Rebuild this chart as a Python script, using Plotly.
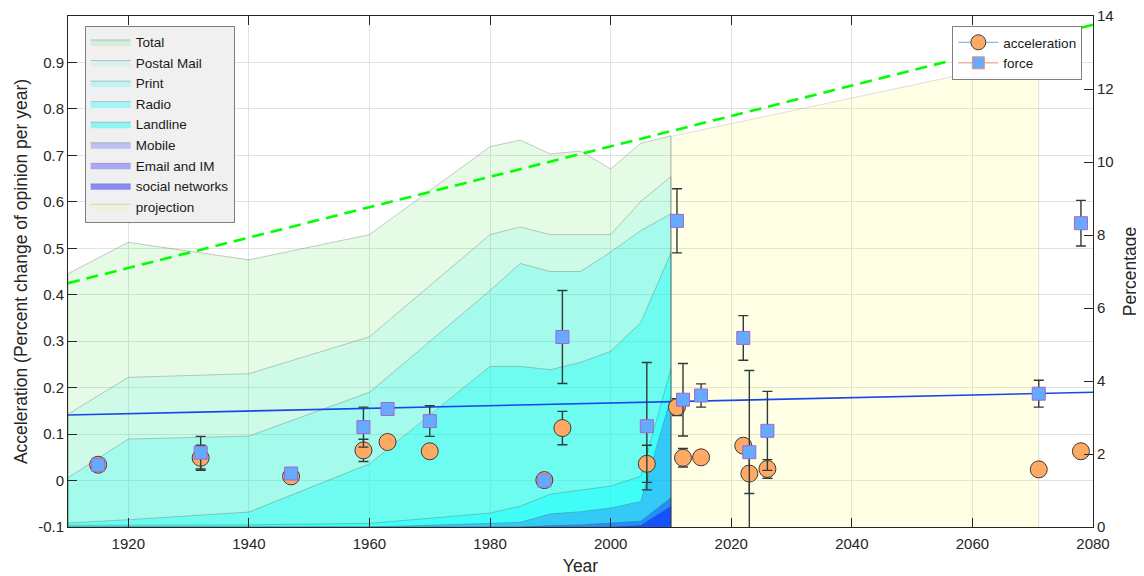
import plotly.graph_objects as go

# ---------------- data ----------------
# communication media shares (Percentage, right axis)
area_years = [1910, 1920, 1940, 1960, 1980, 1985, 1990, 1995, 2000, 2005, 2010]
total = [6.94, 7.80, 7.32, 8.01, 10.42, 10.60, 10.22, 10.30, 9.81, 10.51, 10.72]
postal_mail = [3.09, 4.10, 4.20, 5.21, 8.01, 8.22, 8.01, 8.01, 8.01, 8.92, 9.60]
print_media = [1.35, 2.41, 2.49, 3.69, 6.48, 7.22, 7.00, 7.00, 7.53, 8.12, 8.58]
radio = [0.11, 0.20, 0.41, 1.73, 4.40, 4.40, 4.31, 4.51, 4.81, 5.60, 7.51]
landline = [0.05, 0.05, 0.06, 0.10, 0.38, 0.57, 0.90, 1.01, 1.12, 1.39, 4.33]
mobile = [0, 0, 0, 0, 0.10, 0.13, 0.36, 0.42, 0.52, 0.70, 3.56]
email_im = [0, 0, 0, 0, 0, 0, 0.04, 0.06, 0.11, 0.16, 0.80]
social_networks = [0, 0, 0, 0, 0, 0, 0, 0, 0, 0.04, 0.57]

proj_years = [2010, 2071]
proj_top = [10.70, 12.84]

trend_pct_years = [1910, 2080]
trend_pct = [6.68, 13.76]

# acceleration / force (left axis)
acc_years = [1915, 1932, 1947, 1959, 1963, 1970, 1989, 1992, 2006, 2011, 2012, 2015, 2022, 2023, 2026, 2071, 2078]
acc_vals = [0.034, 0.049, 0.009, 0.065, 0.083, 0.063, 0.001, 0.113, 0.036, 0.158, 0.049, 0.050, 0.075, 0.015, 0.025, 0.024, 0.063]
acc_err = [0, 0.027, 0, 0.024, 0, 0, 0, 0.036, 0.040, 0.018, 0.020, 0, 0, 0.043, 0.020, 0, 0]

force_years = [1915, 1932, 1947, 1959, 1963, 1970, 1989, 1992, 2006, 2011, 2012, 2015, 2022, 2023, 2026, 2071, 2078]
force_vals = [0.034, 0.060, 0.015, 0.115, 0.154, 0.128, 0.000, 0.309, 0.117, 0.559, 0.174, 0.183, 0.307, 0.061, 0.107, 0.187, 0.554]
force_err = [0, 0.035, 0, 0.043, 0, 0.033, 0, 0.100, 0.137, 0.069, 0.078, 0.025, 0.048, 0.176, 0.085, 0.029, 0.049]

trend_acc_years = [1910, 2080]
trend_acc = [0.141, 0.190]

x_ticks = [1920, 1940, 1960, 1980, 2000, 2020, 2040, 2060, 2080]
left_ticks = [-0.1, 0, 0.1, 0.2, 0.3, 0.4, 0.5, 0.6, 0.7, 0.8, 0.9]
left_tick_text = ["-0.1", "0", "0.1", "0.2", "0.3", "0.4", "0.5", "0.6", "0.7", "0.8", "0.9"]
right_ticks = [0, 2, 4, 6, 8, 10, 12, 14]

series = [
    ("Total", total, "rgba(0,220,0,0.10)"),
    ("Postal Mail", postal_mail, "rgba(0,255,255,0.10)"),
    ("Print", print_media, "rgba(0,255,255,0.20)"),
    ("Radio", radio, "rgba(0,255,255,0.33)"),
    ("Landline", landline, "rgba(0,255,255,0.42)"),
    ("Mobile", mobile, "rgba(0,0,255,0.20)"),
    ("Email and IM", email_im, "rgba(0,0,255,0.30)"),
    ("social networks", social_networks, "rgba(0,0,255,0.42)"),
]

EDGE = "rgba(80,80,80,0.30)"
AX = "#262626"
FONT = "Liberation Sans, Arial, Helvetica, sans-serif"

fig = go.Figure()

def closed(xs, ys):
    return [xs[0]] + list(xs) + [xs[-1]], [0] + list(ys) + [0]

for name, vals, col in series:
    px, py = closed(area_years, vals)
    fig.add_trace(go.Scatter(x=px, y=py, mode="lines", fill="toself", fillcolor=col,
                             line=dict(color=EDGE, width=1), name=name, yaxis="y",
                             legend="legend", hoverinfo="skip"))

px, py = closed(proj_years, proj_top)
fig.add_trace(go.Scatter(x=px, y=py, mode="lines", fill="toself", fillcolor="rgba(255,255,0,0.10)",
                         line=dict(color="rgba(80,80,80,0.18)", width=1), name="projection",
                         yaxis="y", legend="legend", hoverinfo="skip"))

fig.add_trace(go.Scatter(x=trend_pct_years, y=trend_pct, mode="lines",
                         line=dict(color="#00ff00", width=2.6, dash="12px,7px"),
                         showlegend=False, yaxis="y"))

# overlay (left axis) traces
fig.add_trace(go.Scatter(x=trend_acc_years, y=trend_acc, mode="lines",
                         line=dict(color="rgb(25,70,235)", width=1.6),
                         showlegend=False, yaxis="y2"))

ORANGE = "rgb(255,170,100)"
BLUE = "rgb(100,170,255)"
ERR = "rgb(45,60,58)"

fig.add_trace(go.Scatter(x=acc_years, y=acc_vals, mode="markers", yaxis="y2", showlegend=False,
                         marker=dict(symbol="circle", size=17, color=ORANGE, line=dict(color="#3a3a3a", width=1)),
                         error_y=dict(type="data", array=acc_err, visible=True, color=ERR, thickness=1.4, width=5)))
fig.add_trace(go.Scatter(x=force_years, y=force_vals, mode="markers", yaxis="y2", showlegend=False,
                         marker=dict(symbol="square", size=13, color=BLUE, line=dict(color="rgb(170,100,200)", width=1)),
                         error_y=dict(type="data", array=force_err, visible=True, color=ERR, thickness=1.4, width=5)))

# legend-only entries
fig.add_trace(go.Scatter(x=[None], y=[None], mode="lines+markers", name="acceleration", yaxis="y2",
                         legend="legend2",
                         line=dict(color="rgb(110,170,225)", width=1),
                         marker=dict(symbol="circle", size=15, color=ORANGE, line=dict(color="#3a3a3a", width=1))))
fig.add_trace(go.Scatter(x=[None], y=[None], mode="lines+markers", name="force", yaxis="y2",
                         legend="legend2",
                         line=dict(color="rgb(235,140,110)", width=1),
                         marker=dict(symbol="square", size=12, color=BLUE, line=dict(color="rgb(235,140,110)", width=1))))

# page body has an 8px margin, so the figure is sized/offset to land on the reference pixels
fig.update_layout(
    template="none",
    width=1136, height=568,
    margin=dict(l=60, r=51.3, t=8, b=48.7),
    paper_bgcolor="white", plot_bgcolor="white",
    font=dict(family=FONT, size=15, color=AX),
    showlegend=True,
    xaxis=dict(range=[1910, 2080], tickvals=x_ticks, ticks="inside", ticklen=9, tickcolor=AX,
               showline=True, linecolor=AX, linewidth=1, mirror="ticks",
               showgrid=True, gridcolor="#e2e2e2", gridwidth=1, zeroline=False, automargin=False,
               tickfont=dict(size=15, color=AX), ticklabelstandoff=3,
               title=dict(text="Year", font=dict(size=17.5, color=AX), standoff=10)),
    yaxis=dict(range=[0, 14], side="right", tickvals=right_ticks, ticks="inside", ticklen=9, tickcolor=AX,
               showline=True, linecolor=AX, linewidth=1, showgrid=False, zeroline=False, automargin=False,
               tickfont=dict(size=15, color=AX), ticklabeloverflow="allow",
               title=dict(text="Percentage", font=dict(size=17.5, color=AX), standoff=11)),
    yaxis2=dict(range=[-0.1, 1.0], overlaying="y", side="left", tickvals=left_ticks, ticktext=left_tick_text,
                ticks="inside", ticklen=9, tickcolor=AX, showline=True, linecolor=AX, linewidth=1,
                showgrid=True, gridcolor="#e2e2e2", gridwidth=1, zeroline=False, automargin=False,
                tickfont=dict(size=15, color=AX), ticklabeloverflow="allow",
                title=dict(text="Acceleration (Percent change of opinion per year)", font=dict(size=17.5, color=AX), standoff=6)),
    legend=dict(x=0.0163, y=0.981, xanchor="left", yanchor="top", bgcolor="#f0f0f0",
                bordercolor="#808080", borderwidth=1, font=dict(size=13.5, color="#1a1a1a"),
                tracegroupgap=0, itemwidth=40),
    legend2=dict(x=0.9896, y=0.9804, xanchor="right", yanchor="top", bgcolor="white",
                 bordercolor="#808080", borderwidth=1, font=dict(size=13.5, color="#1a1a1a"),
                 tracegroupgap=0, itemwidth=40),
)

fig.write_html("out.html")
